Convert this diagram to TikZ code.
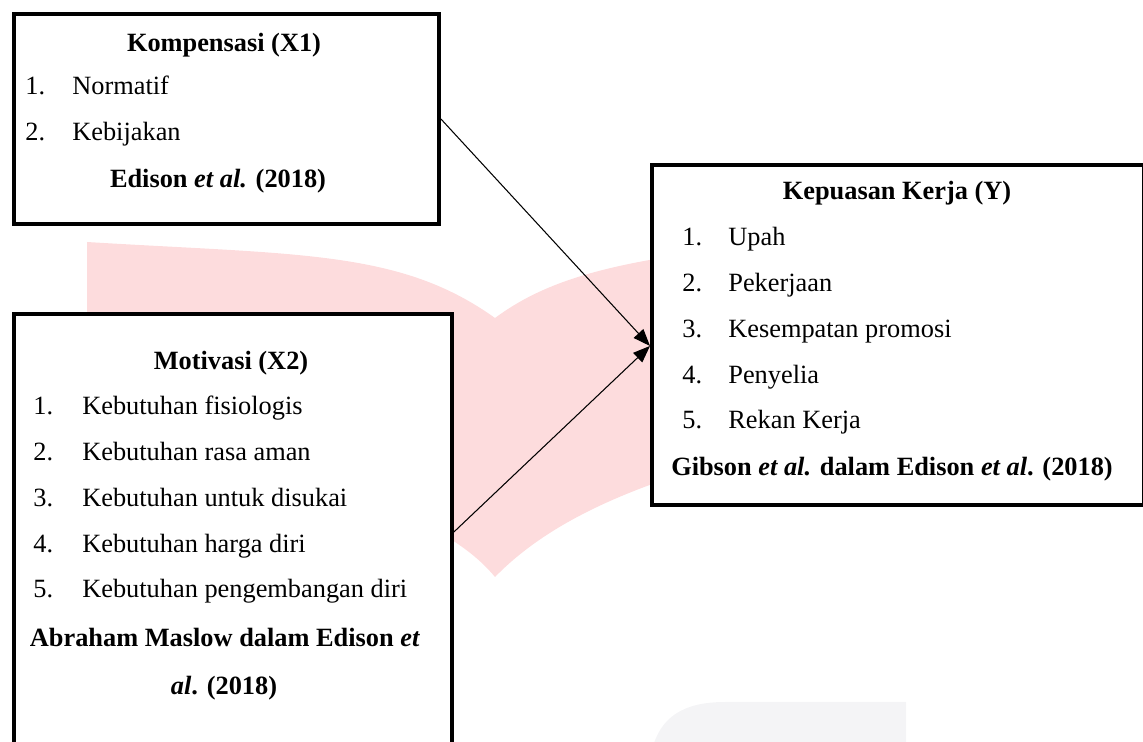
\documentclass[tikz,border=0pt]{standalone}
\usepackage{fontspec}
\setmainfont{Liberation Serif}
\usetikzlibrary{
  arrows.meta,
  positioning
}
\definecolor{wmpink}{HTML}{FDDCDD}
\definecolor{wmgray}{HTML}{F4F4F6}
\newcommand{\teks}{\fontsize{15}{18}\selectfont}
\tikzset{
  x=0.02cm, y=-0.02cm,
  box/.style={draw, line width=0.08cm, fill=white, inner sep=0pt, anchor=north west},
  judul/.style={inner sep=0pt, anchor=base, font=\teks\bfseries},
  butir/.style={inner sep=0pt, anchor=base west, font=\teks},
  panah/.style={-{Triangle[length=0.34cm,width=0.26cm]}, line width=0.6pt}
}

\begin{document}
\begin{tikzpicture}
    \useasboundingbox (0,0) rectangle (1143,742);
    % watermark
    \fill[wmpink] (87,242) .. controls (300,255) and (400,250) .. (495,318)
      -- (495,577) .. controls (440,510) and (300,470) .. (87,460) -- cycle;
    \fill[wmpink] (495,318) .. controls (560,270) and (650,250) .. (900,235)
      -- (900,420) .. controls (700,460) and (570,500) .. (495,577) -- cycle;
    \fill[wmgray] (652,750) .. controls (660,718) and (682,702) .. (725,702)
      -- (906,702) -- (906,750) -- cycle;

    % boxes
    \node[box, minimum width=8.5cm, minimum height=4.2cm] (kompensasi) at (12,12) {};
    \node[box, minimum width=8.76cm, minimum height=8.72cm] (motivasi) at (12,312) {};
    \node[box, minimum width=9.84cm, minimum height=6.8cm] (kepuasan) at (650,163) {};

    % X1
    \node[judul] (judulX1) at (224,52) {Kompensasi (X1)};
    \foreach \isi [count=\i] in {Normatif, Kebijakan}
      \node[butir] (x1-\i) at (25,{95+46*(\i-1)}) {\makebox[0.94cm][l]{\i.}\isi};
    \node[judul] (sumberX1) at (218,188) {Edison \textit{et al.} (2018)};

    % X2
    \node[judul] (judulX2) at (231,370) {Motivasi (X2)};
    \foreach \isi [count=\i] in {Kebutuhan fisiologis, Kebutuhan rasa aman,
        Kebutuhan untuk disukai, Kebutuhan harga diri, Kebutuhan pengembangan diri}
      \node[butir] (x2-\i) at (33,{415+45.7*(\i-1)}) {\makebox[0.98cm][l]{\i.}\isi};
    \node[judul] (sumberX2a) at (225,647) {Abraham Maslow dalam Edison \textit{et}};
    \node[judul] (sumberX2b) at (224,695) {\textit{al}. (2018)};

    % Y
    \node[judul] (judulY) at (897,200) {Kepuasan Kerja (Y)};
    \foreach \isi [count=\i] in {Upah, Pekerjaan, Kesempatan promosi, Penyelia, Rekan Kerja}
      \node[butir] (y-\i) at (682,{246+45.75*(\i-1)}) {\makebox[0.92cm][l]{\i.}\isi};
    \node[judul] (sumberY) at (892,476) {Gibson \textit{et al.} dalam Edison \textit{et al}. (2018)};

    % arrows
    \coordinate (masuk) at ([yshift=-0.22cm]kepuasan.west);
    \draw[panah] (kompensasi.east) -- (masuk);
    \draw[panah] (motivasi.east) -- (masuk);
\end{tikzpicture}
\end{document}
